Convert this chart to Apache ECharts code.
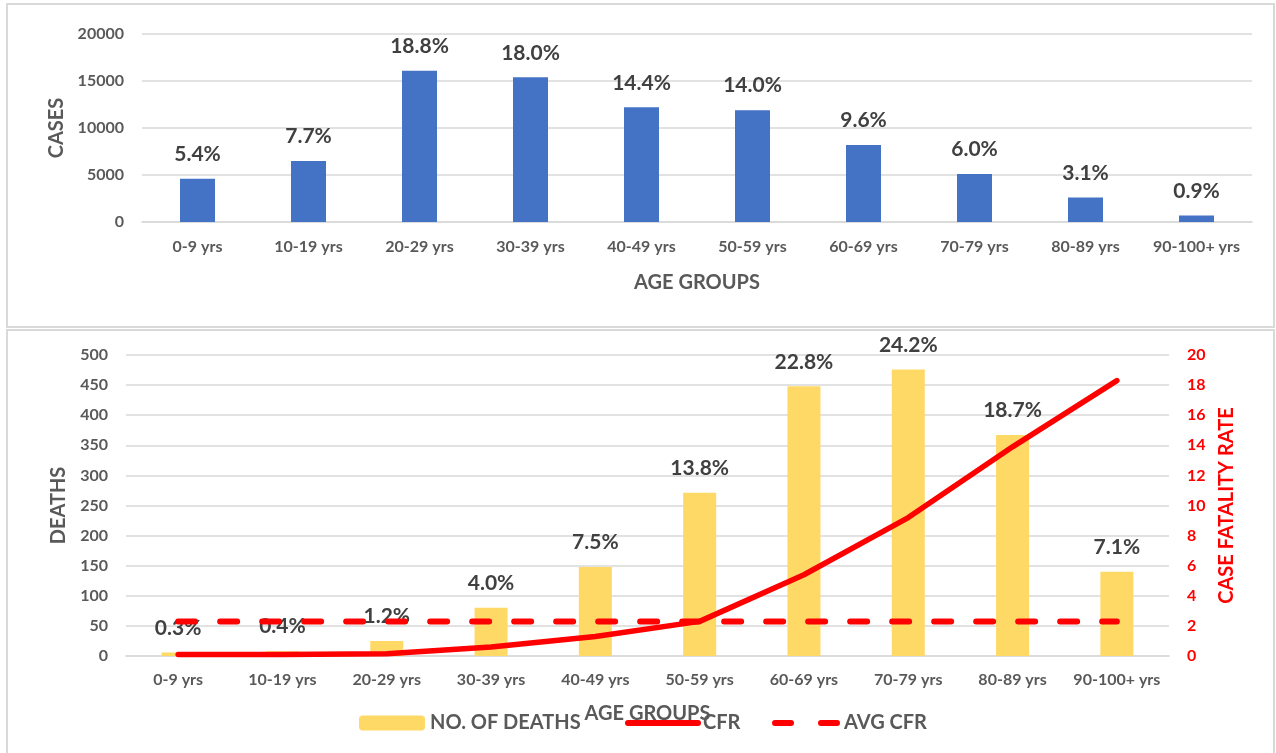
<!DOCTYPE html>
<html>
<head>
<meta charset="utf-8">
<script src="https://cdn.jsdelivr.net/npm/echarts@6/dist/echarts.min.js"></script>
<style>html,body{margin:0;padding:0;background:#fff}#c{width:1276px;height:753px}</style>
</head>
<body>
<div id="c"></div>
<script>
const categories = ['0-9 yrs','10-19 yrs','20-29 yrs','30-39 yrs','40-49 yrs','50-59 yrs','60-69 yrs','70-79 yrs','80-89 yrs','90-100+ yrs'];
const cases = [4600, 6500, 16100, 15400, 12200, 11900, 8200, 5100, 2600, 700];
const casePct = [5.4, 7.7, 18.8, 18.0, 14.4, 14.0, 9.6, 6.0, 3.1, 0.9];
const deaths = [6, 8, 25, 80, 148, 271, 448, 476, 367, 140];
const deathPct = [0.3, 0.4, 1.2, 4.0, 7.5, 13.8, 22.8, 24.2, 18.7, 7.1];
const cfr = [0.1, 0.1, 0.15, 0.6, 1.3, 2.3, 5.4, 9.2, 13.9, 18.3];
const avgCfr = [2.3, 2.3, 2.3, 2.3, 2.3, 2.3, 2.3, 2.3, 2.3, 2.3];

const FONT = 'Lato, "Open Sans", sans-serif';
const GRAY = '#595959';
const DARK = '#404040';
const GRID = '#d9d9d9';
const RED = '#ff0000';

const chart = echarts.init(document.getElementById('c'));
const axisLabel = {color: GRAY, fontFamily: FONT, fontWeight: 'bold', fontSize: 16, formatter: v => String(v)};
const catLabel = {color: GRAY, fontFamily: FONT, fontWeight: 'bold', fontSize: 16, interval: 0};
const nameStyle = {color: GRAY, fontFamily: FONT, fontWeight: 'bold', fontSize: 20};
const labelStyle = {show: true, position: 'top', distance: 14, color: DARK, fontFamily: FONT, fontWeight: 'bold', fontSize: 21};
const legendText = {color: GRAY, fontFamily: FONT, fontWeight: 'bold', fontSize: 20};

chart.setOption({
  animation: false,
  textStyle: {fontFamily: FONT},
  graphic: [
    {type: 'rect', shape: {x: 7, y: 4, width: 1267, height: 323}, style: {fill: 'none', stroke: GRID, lineWidth: 2}},
    {type: 'rect', shape: {x: 7, y: 330, width: 1267, height: 440}, style: {fill: 'none', stroke: GRID, lineWidth: 2}}
  ],
  grid: [
    {left: 142, right: 24, top: 34, height: 188},
    {left: 126, right: 107, top: 355, height: 301}
  ],
  xAxis: [
    {type: 'category', gridIndex: 0, data: categories,
     axisLine: {lineStyle: {color: GRID, width: 1.5}}, axisTick: {show: false},
     axisLabel: Object.assign({}, catLabel, {margin: 17}),
     name: 'AGE GROUPS', nameLocation: 'middle', nameGap: 51, nameTextStyle: nameStyle},
    {type: 'category', gridIndex: 1, data: categories,
     axisLine: {lineStyle: {color: GRID, width: 1.5}}, axisTick: {show: false},
     axisLabel: Object.assign({}, catLabel, {margin: 16}),
     name: 'AGE GROUPS', nameLocation: 'middle', nameGap: 48, nameTextStyle: nameStyle}
  ],
  yAxis: [
    {type: 'value', gridIndex: 0, min: 0, max: 20000, interval: 5000,
     axisLine: {show: false}, axisTick: {show: false},
     splitLine: {lineStyle: {color: GRID, width: 1.5}},
     axisLabel: Object.assign({}, axisLabel, {margin: 18}),
     name: 'CASES', nameLocation: 'middle', nameGap: 74, nameTextStyle: nameStyle},
    {type: 'value', gridIndex: 1, min: 0, max: 500, interval: 50,
     axisLine: {show: false}, axisTick: {show: false},
     splitLine: {lineStyle: {color: GRID, width: 1.5}},
     axisLabel: Object.assign({}, axisLabel, {margin: 18}),
     name: 'DEATHS', nameLocation: 'middle', nameGap: 57, nameTextStyle: nameStyle},
    {type: 'value', gridIndex: 1, min: 0, max: 20, interval: 2, position: 'right',
     axisLine: {show: false}, axisTick: {show: false}, splitLine: {show: false},
     axisLabel: Object.assign({}, axisLabel, {color: RED, margin: 18}),
     name: 'CASE FATALITY RATE', nameLocation: 'middle', nameGap: 48,
     nameTextStyle: Object.assign({}, nameStyle, {color: RED})}
  ],
  legend: [
    {left: 354, top: 708, itemWidth: 66, itemHeight: 15, data: ['NO. OF DEATHS'], textStyle: legendText},
    {left: 620, top: 708, itemWidth: 70, itemHeight: 15, data: ['CFR'], textStyle: legendText,
     itemStyle: {opacity: 0}, lineStyle: {width: 6, cap: 'round'}},
    {left: 767, top: 708, itemWidth: 64, itemHeight: 15, data: ['AVG CFR'], textStyle: legendText,
     itemStyle: {opacity: 0}, lineStyle: {width: 6, type: [16, 30], cap: 'round'}}
  ],
  series: [
    {name: 'CASES', type: 'bar', xAxisIndex: 0, yAxisIndex: 0, data: cases, barWidth: 35,
     itemStyle: {color: '#4472C4'},
     label: Object.assign({}, labelStyle, {formatter: p => casePct[p.dataIndex].toFixed(1) + '%'})},
    {name: 'NO. OF DEATHS', type: 'bar', xAxisIndex: 1, yAxisIndex: 1, data: deaths, barWidth: 33,
     itemStyle: {color: '#FFD966'},
     label: Object.assign({}, labelStyle, {formatter: p => deathPct[p.dataIndex].toFixed(1) + '%'})},
    {name: 'CFR', type: 'line', xAxisIndex: 1, yAxisIndex: 2, data: cfr, symbol: 'none', z: 3,
     lineStyle: {color: RED, width: 5.5, cap: 'round', join: 'round'}, itemStyle: {color: RED}},
    {name: 'AVG CFR', type: 'line', xAxisIndex: 1, yAxisIndex: 2, data: avgCfr, symbol: 'none', z: 3,
     lineStyle: {color: RED, width: 6, type: [17, 25], cap: 'round'}, itemStyle: {color: RED}}
  ]
});
</script>
</body>
</html>
